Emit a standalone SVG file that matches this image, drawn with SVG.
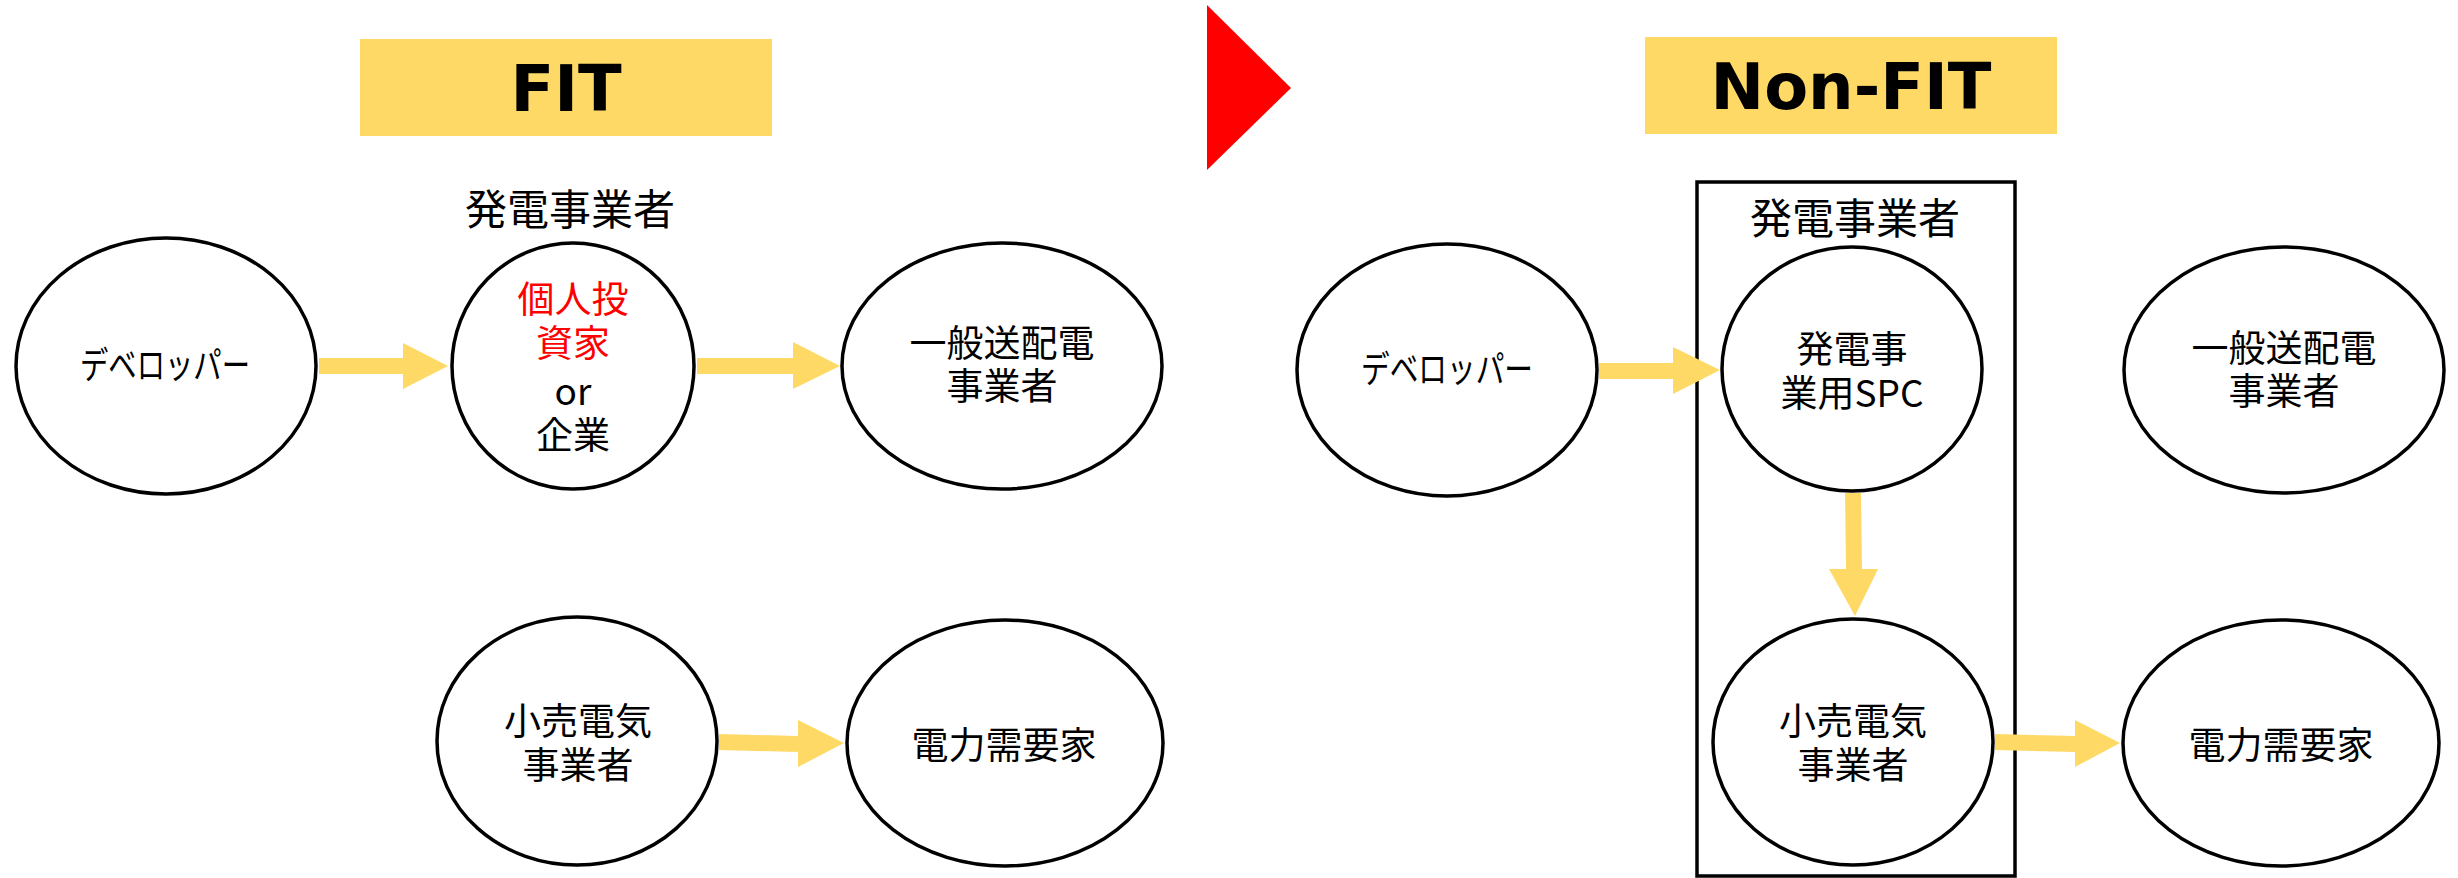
<svg xmlns="http://www.w3.org/2000/svg" width="2458" height="878" viewBox="0 0 2458 878">
<style>
.bg{fill:#ffffff}
.node{fill:#ffffff;stroke:#000000;stroke-width:3.5}
.title-box{fill:#FFD966}
.title{font-family:"DejaVu Sans","Liberation Sans",sans-serif;font-weight:bold;font-size:64px;fill:#000000;text-anchor:middle}
.t{font-family:"Noto Sans CJK JP","Noto Sans",sans-serif;font-size:37px;fill:#000000;text-anchor:middle}
.lbl{font-family:"Noto Sans CJK JP","Noto Sans",sans-serif;font-size:42px;fill:#000000;text-anchor:middle}
.red{fill:#FF0000}
.arrow{fill:#FFD966}
.frame{fill:none;stroke:#000000;stroke-width:3.5}
</style>
<rect class="bg" x="0" y="0" width="2458" height="878"/>

<g id="fit-title">
<rect class="title-box" x="360" y="39" width="412" height="97"/>
<text class="title" x="566" y="111">FIT</text>
</g>

<g id="transition-arrow">
<polygon class="red" points="1207,5 1291,88 1207,170"/>
</g>

<g id="nonfit-title">
<rect class="title-box" x="1645" y="37" width="412" height="97"/>
<text class="title" x="1851" y="109">Non-FIT</text>
</g>

<g id="fit-generator-label">
<text class="lbl" x="570" y="225">発電事業者</text>
</g>

<g id="nonfit-generator-frame">
<rect class="frame" x="1697" y="182" width="318" height="694"/>
<text class="lbl" x="1855" y="234">発電事業者</text>
</g>

<g id="connectors">
<polygon class="arrow" points="319,358 403,358 403,343 448,366 403,389 403,374 319,374"/>
<polygon class="arrow" points="697,358 793,358 793,342 840,366 793,389 793,374 697,374"/>
<polygon class="arrow" points="719,734 798,736 798,720 844,743 798,767 798,752 719,750"/>
<polygon class="arrow" points="1599,363 1673,363 1673,347 1720,370 1673,394 1673,379 1599,379"/>
<polygon class="arrow" points="1845,493 1861,493 1862,569 1878,569 1855,616 1829,569 1846,569"/>
<polygon class="arrow" points="1995,734 2075,736 2075,720 2120,743 2075,767 2075,752 1995,750"/>
</g>

<g id="fit-developer">
<ellipse class="node" cx="166" cy="366" rx="150" ry="128"/>
<text class="t" x="165" y="379" textLength="170" lengthAdjust="spacingAndGlyphs">デベロッパー</text>
</g>

<g id="fit-investor">
<ellipse class="node" cx="573" cy="366" rx="121" ry="123"/>
<text class="t"><tspan class="red" x="573" y="313">個人投</tspan><tspan class="red" x="573" y="357">資家</tspan><tspan x="573" y="405">or</tspan><tspan x="573" y="449">企業</tspan></text>
</g>

<g id="fit-tso">
<ellipse class="node" cx="1002" cy="366" rx="160" ry="123"/>
<text class="t"><tspan x="1002" y="357">一般送配電</tspan><tspan x="1002" y="400">事業者</tspan></text>
</g>

<g id="fit-retailer">
<ellipse class="node" cx="577" cy="741" rx="140" ry="124"/>
<text class="t"><tspan x="578" y="735">小売電気</tspan><tspan x="578" y="779">事業者</tspan></text>
</g>

<g id="fit-consumer">
<ellipse class="node" cx="1005" cy="743" rx="158" ry="123"/>
<text class="t" x="1004" y="759">電力需要家</text>
</g>

<g id="nonfit-developer">
<ellipse class="node" cx="1447" cy="370" rx="150" ry="126"/>
<text class="t" x="1447" y="383" textLength="172" lengthAdjust="spacingAndGlyphs">デベロッパー</text>
</g>

<g id="nonfit-spc">
<ellipse class="node" cx="1852" cy="369" rx="130" ry="122"/>
<text class="t"><tspan x="1852" y="363">発電事</tspan><tspan x="1852" y="407">業用SPC</tspan></text>
</g>

<g id="nonfit-tso">
<ellipse class="node" cx="2284" cy="370" rx="160" ry="123"/>
<text class="t"><tspan x="2284" y="362">一般送配電</tspan><tspan x="2284" y="405">事業者</tspan></text>
</g>

<g id="nonfit-retailer">
<ellipse class="node" cx="1853" cy="742" rx="140" ry="123"/>
<text class="t"><tspan x="1853" y="735">小売電気</tspan><tspan x="1853" y="779">事業者</tspan></text>
</g>

<g id="nonfit-consumer">
<ellipse class="node" cx="2281" cy="743" rx="158" ry="123"/>
<text class="t" x="2281" y="759">電力需要家</text>
</g>
</svg>
